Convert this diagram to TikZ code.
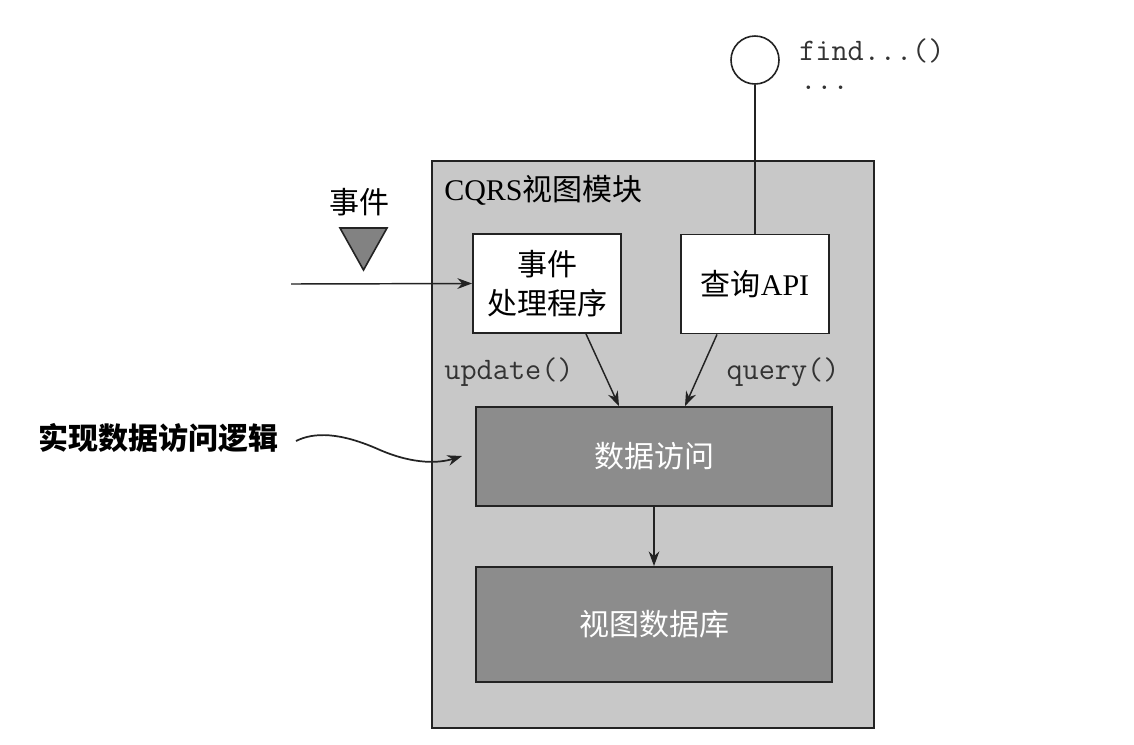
\documentclass[tikz,border=0pt]{standalone}
\usepackage{fontspec}
\setmainfont{Liberation Serif}
\newfontfamily\cjk{Noto Sans CJK SC}
\usetikzlibrary{arrows.meta}
\definecolor{modfill}{RGB}{200,200,200}
\definecolor{darkfill}{RGB}{140,140,140}
\definecolor{trifill}{RGB}{130,130,130}
\definecolor{edge}{RGB}{35,35,35}
\begin{document}
\begin{tikzpicture}[x=0.75pt,y=-0.75pt,
  lbl/.style={inner sep=0pt, font=\fontsize{22.5}{29}\selectfont},
  mono/.style={inner sep=0pt, font=\fontsize{23.5}{28}\selectfont\ttfamily, text=black!80},
  module/.style={draw=edge, line width=1.6pt, fill=modfill, minimum width=331.5pt, minimum height=425.25pt, inner sep=0pt},
  whitebox/.style={draw=edge, line width=1.4pt, fill=white, minimum width=111pt, minimum height=74.25pt, align=center, inner sep=0pt, font=\fontsize{22.5}{29}\selectfont},
  darkbox/.style={draw=edge, line width=1.4pt, fill=darkfill, text=white, minimum width=267pt, align=center, inner sep=0pt, font=\fontsize{22.5}{29}\selectfont\cjk},
  arr/.style={-{Stealth[length=11pt,width=8pt]}, line width=1.1pt, draw=edge},
  plain/.style={line width=1.1pt, draw=edge},
]
\useasboundingbox (0,0) rectangle (1134,744);
\fill[white] (0,0) rectangle (1134,744);

% module container
\node[module] (mod) at (653,444.5) {};
\node[lbl, anchor=west] (modlbl) at (444,190) {CQRS{\cjk 视图模块}};

% inner boxes
\node[whitebox] (eh) at (547,283.5) {{\cjk 事件}\\{\cjk 处理程序}};
\node[whitebox] (qa) at (755,284) {{\cjk 查询}API};
\node[darkbox, minimum height=74.25pt] (da) at (654,456.5) {数据访问};
\node[darkbox, minimum height=86.25pt] (db) at (654,624.5) {视图数据库};

% interface circle
\node[draw=edge, line width=1.2pt, fill=white, circle, minimum size=36pt, inner sep=0pt] (circ) at (755,60) {};
\node[mono, anchor=base west] (find) at (799,60) {find...()};
\node[mono, anchor=base west] (dots) at (800,89) {...};

% event symbol
\node[lbl] (evlbl) at (359,202) {\cjk 事件};
\draw[draw=edge, line width=1.2pt, fill=trifill] (340,228) -- (387,228) -- (363.5,270) -- cycle;

% labels
\node[mono] (upd) at (509,372) {update()};
\node[mono] (qry) at (783,372) {query()};
\node[lbl, font=\fontsize{22.5}{29}\selectfont\cjk\bfseries] (logic) at (158,438) {实现数据访问逻辑};

% connectors
\coordinate (evin) at (291,284);
\draw[arr] (evin) -- (eh.west);
\draw[plain] (circ.south) -- (qa.north);
\draw[arr] ([xshift=29.25pt]eh.south) -- ([xshift=-26.25pt]da.north);
\draw[arr] ([xshift=-28.5pt]qa.south) -- ([xshift=23.25pt]da.north);
\draw[arr] (da.south) -- (db.north);
\coordinate (logicstart) at (296,441);
\coordinate (logicend) at (462,456);
\draw[arr, line width=1.3pt] (logicstart) .. controls (314,432) and (340,432) .. (380,450)
  .. controls (415,465) and (440,463) .. (logicend);
\end{tikzpicture}
\end{document}
